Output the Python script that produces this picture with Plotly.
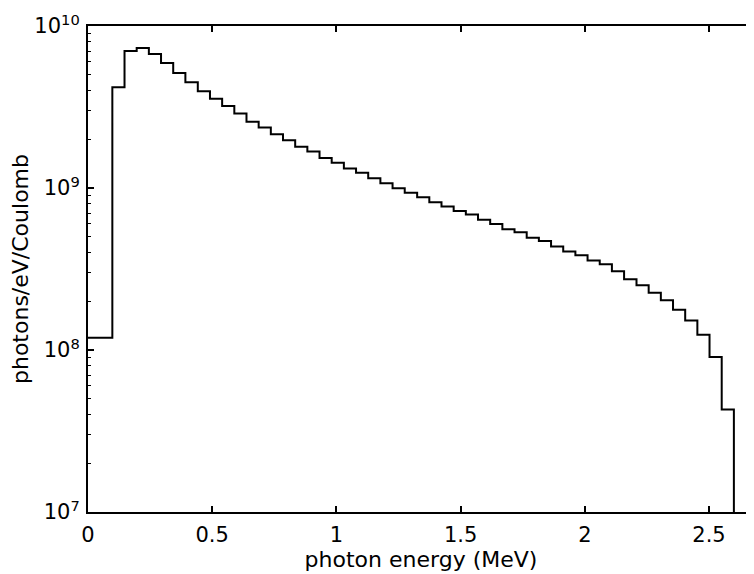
import plotly.graph_objects as go

# bin edges in MeV
bin_edges = [0.000, 0.049, 0.098, 0.147, 0.196, 0.245, 0.294, 0.343, 0.392, 0.442,
             0.491, 0.540, 0.589, 0.638, 0.687, 0.736, 0.785, 0.834, 0.883, 0.932,
             0.981, 1.030, 1.079, 1.128, 1.177, 1.226, 1.275, 1.325, 1.374, 1.423,
             1.472, 1.521, 1.570, 1.619, 1.668, 1.717, 1.766, 1.815, 1.864, 1.913,
             1.962, 2.011, 2.060, 2.109, 2.158, 2.208, 2.257, 2.306, 2.355, 2.404,
             2.453, 2.502, 2.551, 2.600]

# photons/eV/Coulomb for each bin
counts = [1.19e8, 1.19e8, 4.19e9, 7.01e9, 7.31e9, 6.72e9, 5.91e9, 5.13e9, 4.49e9, 3.95e9,
          3.56e9, 3.21e9, 2.88e9, 2.56e9, 2.36e9, 2.15e9, 1.97e9, 1.80e9, 1.68e9, 1.53e9,
          1.43e9, 1.32e9, 1.24e9, 1.15e9, 1.07e9, 9.96e8, 9.36e8, 8.76e8, 8.16e8, 7.68e8,
          7.20e8, 6.85e8, 6.37e8, 6.00e8, 5.56e8, 5.33e8, 4.93e8, 4.71e8, 4.35e8, 4.05e8,
          3.84e8, 3.57e8, 3.38e8, 3.06e8, 2.73e8, 2.51e8, 2.26e8, 2.03e8, 1.77e8, 1.52e8,
          1.24e8, 9.06e7, 4.30e7]

floor_value = 1e5  # drop-off below the axis after the last bin

x_ticks = [0, 0.5, 1, 1.5, 2, 2.5]
x_tick_labels = ["0", "0.5", "1", "1.5", "2", "2.5"]
y_ticks = [1e7, 1e8, 1e9, 1e10]
y_tick_labels = ["10<sup>7</sup>", "10<sup>8</sup>", "10<sup>9</sup>", "10<sup>10</sup>"]
decades = [1e7, 1e8, 1e9]
mantissas = [2, 3, 4, 5, 6, 7, 8, 9]
y_minor_ticks = [m * d for d in decades for m in mantissas]

FONT = "DejaVu Sans"

fig = go.Figure()
fig.add_trace(go.Scatter(
    x=bin_edges,
    y=counts + [floor_value],
    mode="lines",
    line=dict(shape="hv", color="black", width=2),
    hoverinfo="skip",
    showlegend=False,
))
# invisible trace on the right-side mirrored tick axis
fig.add_trace(go.Scatter(
    x=[bin_edges[0]], y=[counts[0]], yaxis="y2", mode="lines",
    line=dict(width=0), hoverinfo="skip", showlegend=False,
))

fig.update_layout(
    width=746, height=566,
    margin=dict(l=80, r=0, t=18, b=62),
    paper_bgcolor="white", plot_bgcolor="white",
    font=dict(family=FONT, size=21, color="black"),
    xaxis=dict(
        range=[0, 2.681],
        tickvals=x_ticks, ticktext=x_tick_labels,
        ticks="inside", ticklen=6, tickwidth=2, tickcolor="black",
        showline=True, linecolor="black", linewidth=2, mirror="ticks",
        showgrid=False, zeroline=False,
        tickfont=dict(family=FONT, size=21),
        ticklabelstandoff=3,
        title=dict(text="photon energy (MeV)", font=dict(family=FONT, size=22), standoff=3),
    ),
    yaxis=dict(
        type="log", range=[7, 10],
        tickvals=y_ticks, ticktext=y_tick_labels,
        ticks="inside", ticklen=6, tickwidth=2, tickcolor="black",
        minor=dict(tickmode="array", tickvals=y_minor_ticks, ticks="inside",
                   ticklen=3, tickwidth=1, tickcolor="black", showgrid=False),
        showline=True, linecolor="black", linewidth=2,
        showgrid=False, zeroline=False,
        tickfont=dict(family=FONT, size=21),
        ticklabelstandoff=2,
        title=dict(text="photons/eV/Coulomb", font=dict(family=FONT, size=22), standoff=0),
    ),
    yaxis2=dict(
        type="log", range=[7, 10], overlaying="y", side="right", anchor="x",
        tickvals=[1e8, 1e9], showticklabels=False,
        ticks="inside", ticklen=6, tickwidth=2, tickcolor="black",
        showline=False, showgrid=False, zeroline=False,
    ),
)

fig.write_html("out.html")
